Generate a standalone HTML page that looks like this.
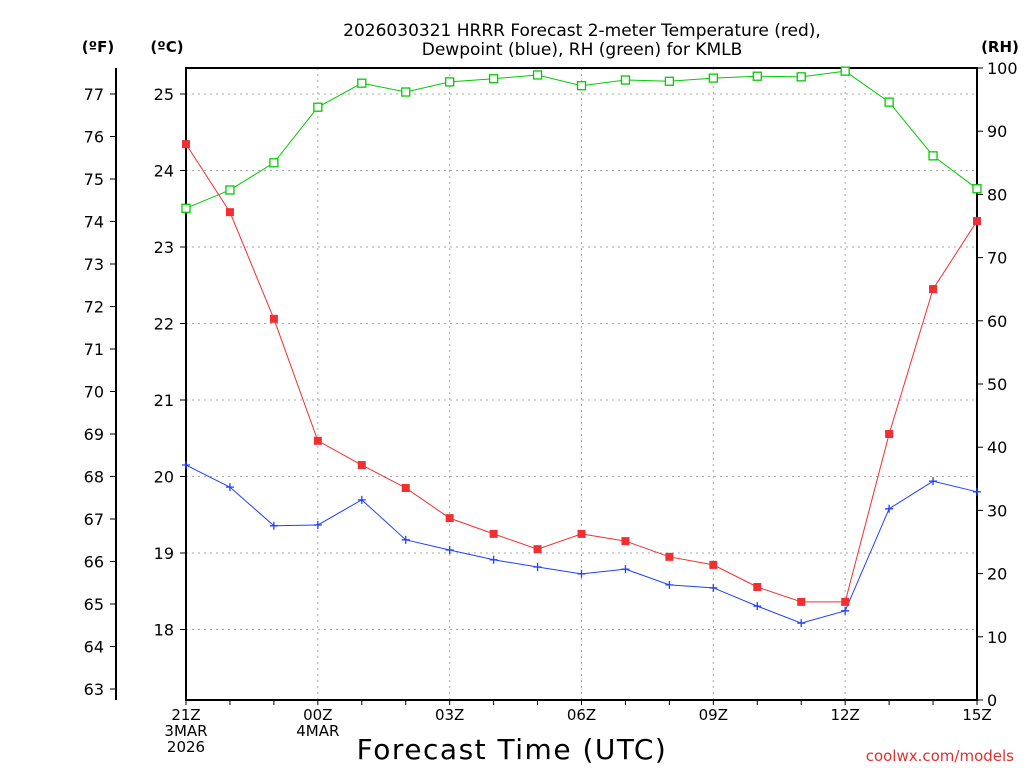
<!DOCTYPE html>
<html><head><meta charset="utf-8"><style>
body{margin:0;background:#fff;}
svg{display:block;font-family:"DejaVu Sans","Liberation Sans",sans-serif;}
</style></head><body>
<svg id="chart" width="1024" height="768" viewBox="0 0 1024 768">
<g id="grid"></g>
<g id="axes"></g>
<g id="series"></g>
<text x="582" y="36" text-anchor="middle" font-size="17">2026030321 HRRR Forecast 2-meter Temperature (red),</text>
<text x="582" y="55" text-anchor="middle" font-size="17">Dewpoint (blue), RH (green) for KMLB</text>
<text x="98" y="52" text-anchor="middle" font-size="15" font-weight="bold">(ºF)</text>
<text x="167" y="52" text-anchor="middle" font-size="15" font-weight="bold">(ºC)</text>
<text x="1000" y="52" text-anchor="middle" font-size="15" font-weight="bold">(RH)</text>
<text x="512" y="759" text-anchor="middle" font-size="28" letter-spacing="1.5">Forecast Time (UTC)</text>
<text x="1014" y="761" text-anchor="end" font-size="15" fill="#e03030">coolwx.com/models</text>
</svg>
<script>
const hours = ["21Z","22Z","23Z","00Z","01Z","02Z","03Z","04Z","05Z","06Z","07Z","08Z","09Z","10Z","11Z","12Z","13Z","14Z","15Z"];
const tempF = [75.82,74.22,71.71,68.84,68.27,67.73,67.02,66.65,66.29,66.65,66.48,66.11,65.92,65.40,65.05,65.05,69.0,72.41,74.01];
const dewF = [68.27,67.75,66.84,66.86,67.45,66.51,66.27,66.04,65.87,65.71,65.82,65.45,65.38,64.95,64.55,64.84,67.24,67.89,67.64];
const rh = [77.8,80.7,85.0,93.8,97.6,96.2,97.8,98.3,98.9,97.2,98.1,97.9,98.4,98.7,98.6,99.5,94.6,86.1,80.9];
const fTicks = [63,64,65,66,67,68,69,70,71,72,73,74,75,76,77];
const cTicks = [18,19,20,21,22,23,24,25];
const rhTicks = [0,10,20,30,40,50,60,70,80,90,100];
const xLabels = [["21Z","3MAR","2026"],["00Z","4MAR"],["03Z"],["06Z"],["09Z"],["12Z"],["15Z"]];
const xLabelIdx = [0,3,6,9,12,15,18];

const L=186,R=977,T=68,B=700;
const NS="http://www.w3.org/2000/svg";
const xs=i=>L+(R-L)*i/(hours.length-1);
const yF=f=>94+(77-f)*42.5;
const yC=c=>yF(c*1.8+32);
const yRH=v=>B-(B-T)*v/100;
function el(p,t,a,txt){const e=document.createElementNS(NS,t);for(const k in a)e.setAttribute(k,a[k]);if(txt!==undefined)e.textContent=txt;p.appendChild(e);return e;}
const grid=document.getElementById('grid'),axes=document.getElementById('axes'),ser=document.getElementById('series');
cTicks.forEach(c=>{const g=el(grid,'line',{x1:L,x2:R,y1:yC(c),y2:yC(c),stroke:'#aaa','stroke-dasharray':'2,4'});

});
xLabelIdx.slice(1,-1).forEach(i=>{const g=el(grid,'line',{x1:xs(i),x2:xs(i),y1:T,y2:B,stroke:'#aaa','stroke-dasharray':'2,4'});

});
const frame=el(axes,'rect',{x:L,y:T,width:R-L,height:B-T,fill:'none',stroke:'#000','stroke-width':2});


el(axes,'line',{x1:116,x2:116,y1:T,y2:B,stroke:'#000','stroke-width':2});
fTicks.forEach(f=>{el(axes,'line',{x1:110,x2:116,y1:yF(f),y2:yF(f),stroke:'#000'});
const t=el(axes,'text',{x:104,y:yF(f)+6,'text-anchor':'end','font-size':16},f);

});
cTicks.forEach(c=>{el(axes,'line',{x1:L-6,x2:L,y1:yC(c),y2:yC(c),stroke:'#000'});
const t=el(axes,'text',{x:174,y:yC(c)+6,'text-anchor':'end','font-size':16},c);

});
rhTicks.forEach(v=>{el(axes,'line',{x1:R,x2:R+6,y1:yRH(v),y2:yRH(v),stroke:'#000'});
const t=el(axes,'text',{x:987,y:yRH(v)+6,'font-size':16},v);

});
hours.forEach((h,i)=>el(axes,'line',{x1:xs(i),x2:xs(i),y1:B,y2:B+5,stroke:'#000'}));
xLabelIdx.forEach((i,k)=>{xLabels[k].forEach((s,j)=>{const t=el(axes,'text',{x:xs(i),y:720+j*16,'text-anchor':'middle','font-size':15},s);

});});
function line(vals,fy,color,name,marker){
 const p=el(ser,'polyline',{points:vals.map((v,i)=>xs(i)+','+fy(v)).join(' '),fill:'none',stroke:color,'stroke-width':1});
 
 
 vals.forEach((v,i)=>{const x=xs(i),y=fy(v);let m;
  if(marker==='fill')m=el(ser,'rect',{x:x-4,y:y-4,width:8,height:8,fill:color});
  else if(marker==='open')m=el(ser,'rect',{x:x-4,y:y-4,width:8,height:8,fill:'#fff',stroke:color,'stroke-width':1.3});
  else m=el(ser,'path',{d:`M${x-4},${y}H${x+4}M${x},${y-4}V${y+4}`,stroke:color,'stroke-width':1.3});
  
  });
}
line(rh,yRH,'#00cc00','rh','open');
line(dewF,yF,'#2040ff','dewpoint','plus');
line(tempF,yF,'#f03030','temperature','fill');
</script>
</body></html>
